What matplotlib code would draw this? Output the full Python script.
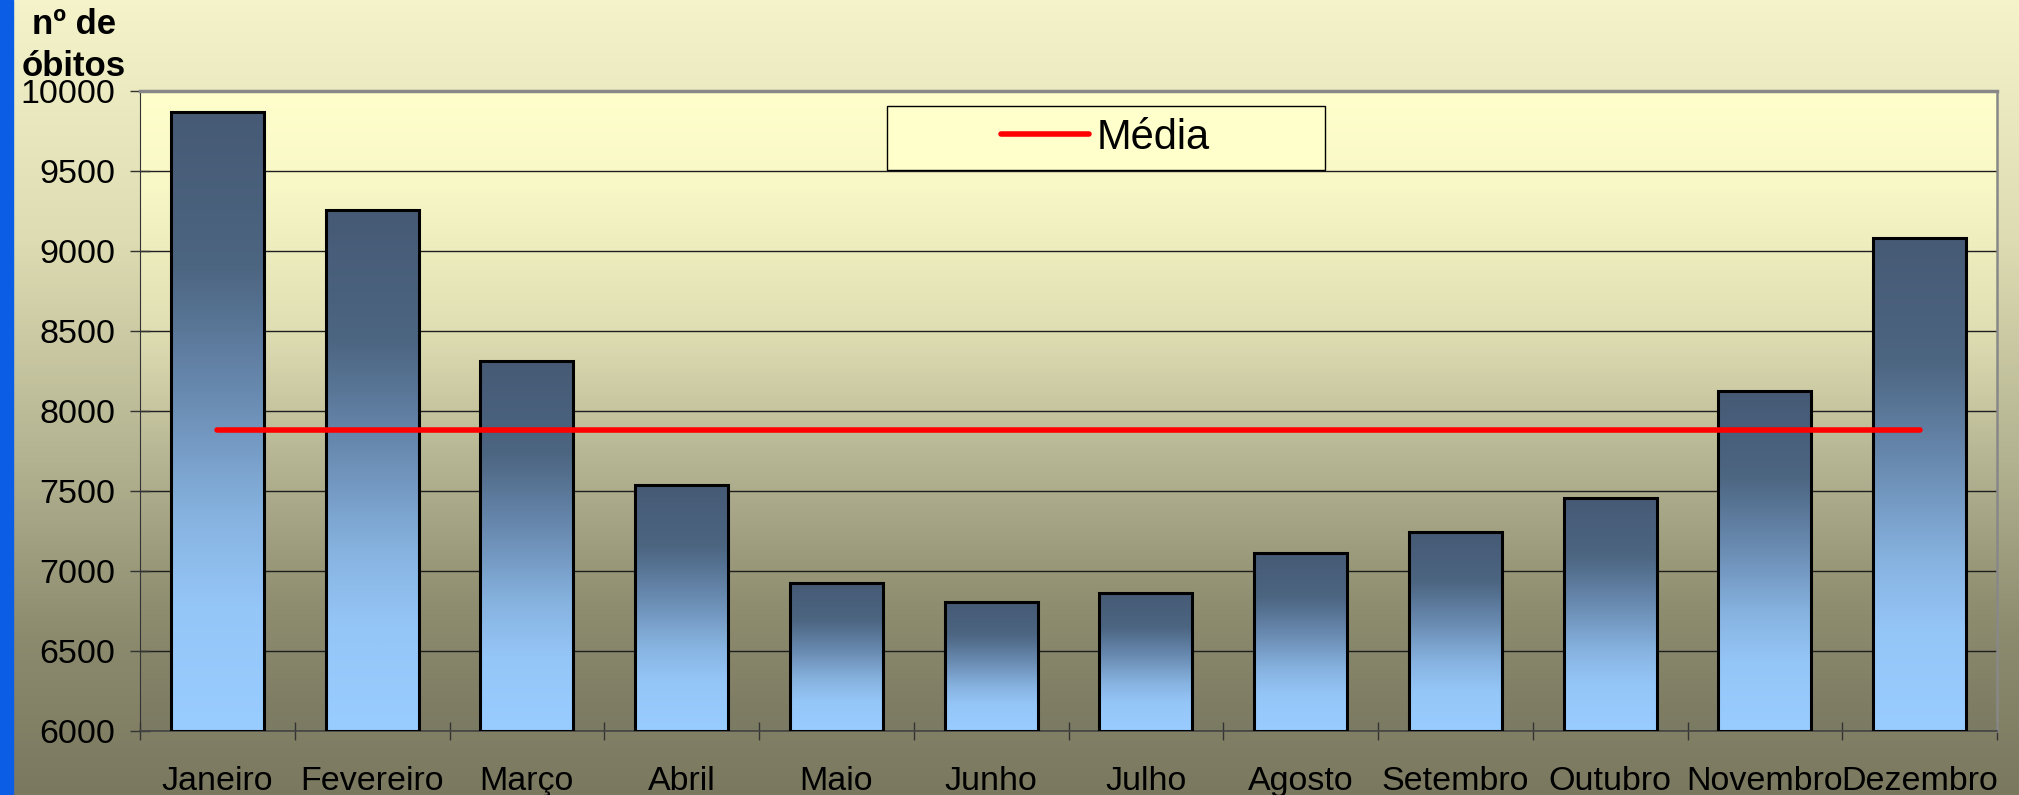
import numpy as np
import matplotlib
matplotlib.use("Agg")
import matplotlib.pyplot as plt
from matplotlib.colors import LinearSegmentedColormap
from matplotlib.patches import Rectangle

plt.rcParams["font.family"] = ["Liberation Sans", "DejaVu Sans"]

# Monthly deaths
meses = ["Janeiro", "Fevereiro", "Março", "Abril", "Maio", "Junho",
         "Julho", "Agosto", "Setembro", "Outubro", "Novembro", "Dezembro"]
obitos = [9869, 9256, 8315, 7535, 6923, 6806, 6864, 7115, 7246, 7458, 8127, 9083]
y_ticks = [6000, 6500, 7000, 7500, 8000, 8500, 9000, 9500, 10000]

media = np.mean(obitos)

# Colour ramps (yellow -> olive background, light -> dark blue bars)
bg_cmap = LinearSegmentedColormap.from_list(
    "bg", [(0.0, "#7B7A62"), (0.2, "#8F8E70"), (0.41, "#B3B291"),
           (0.63, "#E0DFB3"), (0.85, "#F8F7C6"), (1.0, "#FFFFCC")])
fig_cmap = LinearSegmentedColormap.from_list(
    "fig", [(0.0, "#7A7960"), (0.2, "#8C8B6E"), (0.45, "#B8B795"),
            (0.7, "#DDDCB2"), (1.0, "#F4F3C9")])
bar_cmap = LinearSegmentedColormap.from_list(
    "bar", [(0.0, "#99CCFF"), (0.2, "#95C6F8"), (0.35, "#86B2DF"),
            (0.55, "#6889AF"), (0.75, "#4C6581"), (1.0, "#465A75")])
ramp = np.linspace(0, 1, 256).reshape(-1, 1)

W, H = 2019, 795
fig = plt.figure(figsize=(W / 100, H / 100), dpi=100)

# figure background + blue strip on the left
bg = fig.add_axes([0, 0, 1, 1], zorder=-10)
bg.imshow(ramp, cmap=fig_cmap, origin="lower", aspect="auto", extent=[0, 1, 0, 1])
bg.add_patch(Rectangle((0, 0), 13 / W, 1, color="#0B5DE6"))
bg.set_xlim(0, 1)
bg.set_ylim(0, 1)
bg.axis("off")

ax = fig.add_axes([140 / W, (H - 731) / H, 1857 / W, 640 / H])
ax.patch.set_alpha(0)
ax.imshow(ramp, cmap=bg_cmap, origin="lower", aspect="auto",
          extent=[0, 1, 0, 1], transform=ax.transAxes, zorder=-1)

x = np.arange(len(meses))
base = y_ticks[0]
bars = ax.bar(x, np.array(obitos) - base, bottom=base, width=0.6,
              facecolor="none", edgecolor="black", linewidth=2.2, zorder=3)
for rect in bars:
    x0, y0 = rect.get_x(), rect.get_y()
    im = ax.imshow(ramp, cmap=bar_cmap, origin="lower", aspect="auto",
                   extent=[x0, x0 + rect.get_width(), y0, y0 + rect.get_height()],
                   zorder=2)
    im.set_clip_path(rect)

# mean line
ax.plot([x[0], x[-1]], [media, media], color="#FF0000", lw=4,
        solid_capstyle="round", zorder=4, label="Média")

ax.set_xlim(-0.5, len(meses) - 0.5)
ax.set_ylim(y_ticks[0], y_ticks[-1])
ax.set_yticks(y_ticks)
ax.set_xticks(x, meses)
ax.set_xticks(np.arange(-0.5, len(meses), 1), minor=True)
ax.tick_params(axis="x", which="major", length=0, pad=25, labelsize=24.5)
ax.tick_params(axis="x", which="minor", direction="inout", length=13,
               width=1, color="#333333")
ax.tick_params(axis="y", direction="inout", length=14, width=1,
               color="#333333", pad=11, labelsize=24.5)

ax.yaxis.grid(True, color="#1E1E1E", lw=1.0)
ax.set_axisbelow(True)

ax.spines["top"].set_color("#888888")
ax.spines["top"].set_linewidth(2.5)
ax.spines["right"].set_color("#888888")
ax.spines["right"].set_linewidth(1.8)
ax.spines["left"].set_color("#333333")
ax.spines["bottom"].set_color("#444444")
ax.spines["bottom"].set_linewidth(1.2)

# legend inside its own wide box
ax.add_patch(Rectangle((0.402, 0.877), 0.236, 0.1, transform=ax.transAxes,
                       facecolor="#FFFFCC", edgecolor="black", lw=1, zorder=5))
ax.legend(loc="center", bbox_to_anchor=(0.52, 0.927), frameon=False,
          fontsize=30, handlelength=2.1, handletextpad=0.2).set_zorder(6)

fig.text(74 / W, 1 - 8 / H, "nº de\nóbitos", ha="center", va="top",
         fontsize=25, fontweight="bold", linespacing=1.35)

fig.savefig("out.png", dpi=100)
